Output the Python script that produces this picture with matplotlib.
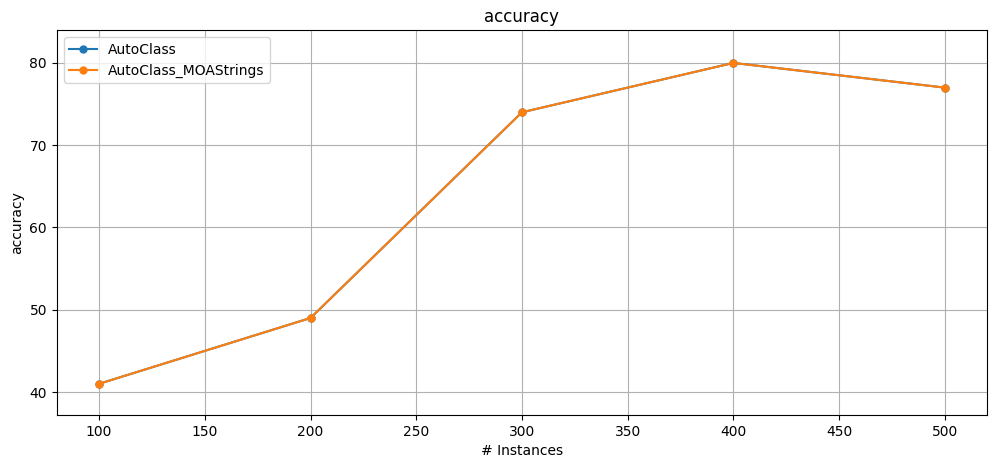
import numpy as np
import matplotlib
matplotlib.use("Agg")
import matplotlib.pyplot as plt

instances = [100, 200, 300, 400, 500]
autoclass = [41, 49, 74, 80, 77]
autoclass_moa = [41, 49, 74, 80, 77]

fig, ax = plt.subplots(figsize=(9.97, 4.69), dpi=100)
fig.subplots_adjust(left=0.057, right=0.99, top=0.936, bottom=0.115)

ax.plot(instances, autoclass, marker='o', markersize=5, label='AutoClass')
ax.plot(instances, autoclass_moa, marker='o', markersize=5, label='AutoClass_MOAStrings')

ax.set_title('accuracy')
ax.set_xlabel('# Instances')
ax.set_ylabel('accuracy')
ax.set_ylim(37.2, 84.0)
ax.set_yticks([40, 50, 60, 70, 80])
ax.grid(True)
ax.legend(loc='upper left')

fig.savefig('out.png')
